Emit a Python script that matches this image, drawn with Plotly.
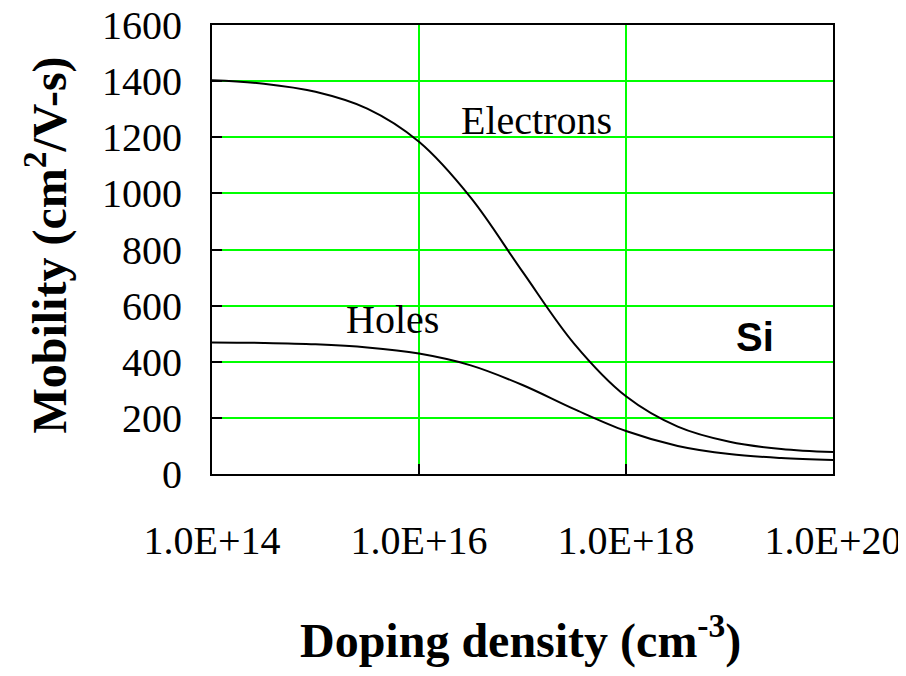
import plotly.graph_objects as go

# Doping density (log10 of cm^-3)
log_doping = [14.0, 14.5, 15.0, 15.5, 16.0, 16.5, 17.0, 17.5, 18.0, 18.5, 19.0, 19.5, 20.0]
electrons = [1403, 1391, 1362, 1302, 1184, 985, 721, 464, 277, 169, 115, 89, 78]
holes = [469, 467, 462, 451, 429, 387, 317, 231, 153, 100, 71, 57, 50]

x_tickvals = [1e14, 1e16, 1e18, 1e20]
x_ticktext = ["1.0E+14", "1.0E+16", "1.0E+18", "1.0E+20"]
y_tickvals = [0, 200, 400, 600, 800, 1000, 1200, 1400, 1600]

doping = [10 ** v for v in log_doping]

SERIF = "Liberation Serif"

fig = go.Figure()
fig.add_trace(go.Scatter(x=doping, y=electrons, mode="lines", name="Electrons",
                         line=dict(color="black", width=2, shape="spline")))
fig.add_trace(go.Scatter(x=doping, y=holes, mode="lines", name="Holes",
                         line=dict(color="black", width=2, shape="spline")))

fig.update_layout(
    width=906, height=676,
    margin=dict(l=204, r=81, t=17, b=210, autoexpand=False),
    paper_bgcolor="white", plot_bgcolor="white",
    showlegend=False,
    font=dict(family=SERIF, color="black", size=40),
)
fig.update_xaxes(
    type="log", range=[14, 20], automargin=False,
    tickvals=x_tickvals, ticktext=x_ticktext,
    showgrid=True, gridcolor="#00FF00", gridwidth=2,
    showline=True, linecolor="black", linewidth=2, mirror=True,
    ticks="inside", ticklen=10, tickwidth=2, tickcolor="black",
    tickfont=dict(family=SERIF, size=40, color="black"),
    ticklabelstandoff=30, ticklabeloverflow="allow", zeroline=False,
)
fig.update_yaxes(
    range=[0, 1600], tickvals=y_tickvals, automargin=False,
    showgrid=True, gridcolor="#00FF00", gridwidth=2,
    showline=True, linecolor="black", linewidth=2, mirror=True,
    ticks="inside", ticklen=10, tickwidth=2, tickcolor="black",
    tickfont=dict(family=SERIF, size=40, color="black"),
    ticklabelstandoff=20, ticklabeloverflow="allow", zeroline=False,
)

fig.add_annotation(x=17.14, y=1261, text="Electrons", showarrow=False,
                   font=dict(family=SERIF, size=40, color="black"))
fig.add_annotation(x=15.74, y=549, text="Holes", showarrow=False,
                   font=dict(family=SERIF, size=40, color="black"))
fig.add_annotation(x=19.25, y=488, text="<b>Si</b>", showarrow=False,
                   font=dict(family="Liberation Sans", size=40, color="black"))
fig.add_annotation(xref="paper", yref="paper", x=0.496, y=-0.365,
                   xanchor="center", yanchor="middle",
                   text="<b>Doping density (cm<sup>-3</sup>)</b>", showarrow=False,
                   font=dict(family=SERIF, size=48, color="black"))
fig.add_annotation(xref="paper", yref="paper", x=-0.268, y=0.51, textangle=-90,
                   xanchor="center", yanchor="middle",
                   text="<b>Mobility (cm<sup>2</sup>/V-s)</b>", showarrow=False,
                   font=dict(family=SERIF, size=48, color="black"))

fig.write_html("out.html")
